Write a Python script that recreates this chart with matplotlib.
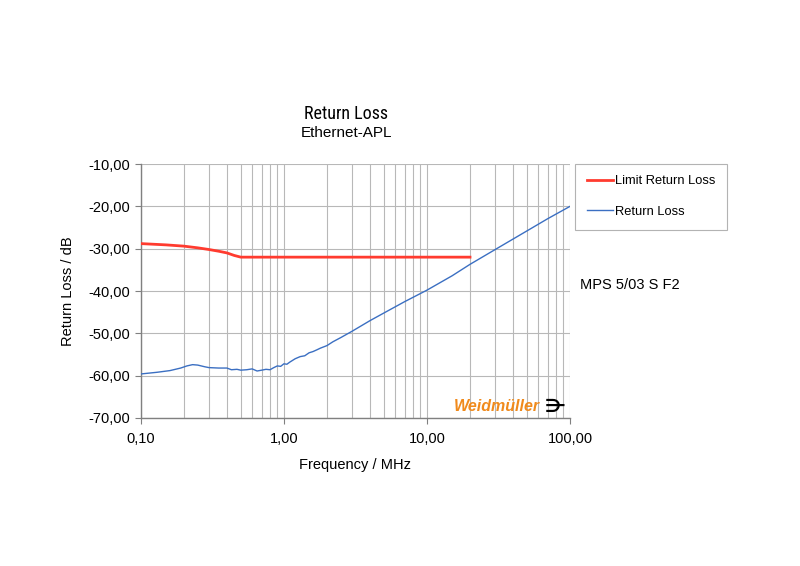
import matplotlib
matplotlib.use("Agg")
import matplotlib.pyplot as plt
from matplotlib.ticker import FixedLocator, LogLocator, NullFormatter

plt.rcParams['font.family'] = ['Liberation Sans', 'DejaVu Sans']

# Data
limit_freq = [0.10, 0.15, 0.20, 0.25, 0.30, 0.35, 0.40, 0.45, 0.50, 1.0, 5.0, 20.0]
limit_db = [-28.8, -29.1, -29.4, -29.8, -30.2, -30.6, -31.0, -31.6, -32.0, -32.0, -32.0, -32.0]

rl_freq = [0.10, 0.13, 0.16, 0.19, 0.21, 0.23, 0.25, 0.28, 0.30, 0.35, 0.40, 0.43,
           0.47, 0.50, 0.55, 0.60, 0.65, 0.70, 0.75, 0.80, 0.85, 0.90, 0.95, 1.00,
           1.05, 1.10, 1.20, 1.30, 1.40, 1.50, 1.60, 1.70, 1.80, 2.00, 2.20, 2.50,
           3.00, 4.00, 5.00, 7.00, 10.0, 15.0, 20.0, 30.0, 50.0, 70.0, 100.0]
rl_db = [-59.6, -59.2, -58.8, -58.2, -57.7, -57.4, -57.5, -57.9, -58.1, -58.2, -58.2, -58.6,
         -58.5, -58.7, -58.6, -58.4, -58.9, -58.7, -58.5, -58.6, -58.1, -57.7, -57.8, -57.2,
         -57.3, -56.8, -56.0, -55.5, -55.3, -54.6, -54.3, -53.9, -53.5, -52.9, -52.0, -51.0,
         -49.5, -47.0, -45.2, -42.5, -39.8, -36.4, -33.7, -30.2, -25.8, -22.9, -20.0]

x_ticks = [0.1, 1.0, 10.0, 100.0]
x_ticklabels = ['0,10', '1,00', '10,00', '100,00']
y_ticks = [-70, -60, -50, -40, -30, -20, -10]
y_ticklabels = ['-70,00', '-60,00', '-50,00', '-40,00', '-30,00', '-20,00', '-10,00']

fig = plt.figure(figsize=(8, 5.66), dpi=100)
ax = fig.add_axes([0.176, 0.2615, 0.5365, 0.4487])

ax.plot(limit_freq, limit_db, color='#FF3B2F', lw=2.0, label='Limit Return Loss', zorder=3)
ax.plot(rl_freq, rl_db, color='#3B6FC2', lw=1.0, label='Return Loss', zorder=3)

ax.set_xscale('log')
ax.set_xlim(0.1, 100)
ax.set_ylim(-70, -10)
ax.xaxis.set_major_locator(FixedLocator(x_ticks))
ax.set_xticklabels(x_ticklabels)
ax.xaxis.set_minor_locator(LogLocator(base=10, subs=range(2, 10)))
ax.xaxis.set_minor_formatter(NullFormatter())
ax.set_yticks(y_ticks)
ax.set_yticklabels(y_ticklabels)

ax.grid(True, which='both', axis='x', color='#B8B8B8', lw=0.8)
ax.grid(True, which='major', axis='y', color='#B8B8B8', lw=0.8)
ax.tick_params(axis='both', which='major', labelsize=10.5, color='#808080', length=4, direction='out')
ax.tick_params(axis='x', which='minor', length=0)
ax.tick_params(axis='x', pad=6)
for s in ax.spines.values():
    s.set_color('#808080')
    s.set_linewidth(1.0)
ax.spines['top'].set_visible(False)
ax.spines['right'].set_visible(False)

ax.set_xlabel('Frequency / MHz', fontsize=10.5, labelpad=9)
ax.set_ylabel('Return Loss / dB', fontsize=10.5, labelpad=10)

fig.text(0.4325, 0.798, 'Return Loss', ha='center', va='center', fontsize=13,
         family=['Liberation Sans Narrow', 'DejaVu Sans Condensed', 'Roboto Condensed', 'Liberation Sans'],
         fontstretch='condensed')
fig.text(0.4325, 0.765, 'Ethernet-APL', ha='center', va='center', fontsize=11)

leg = fig.legend(loc='upper left', bbox_to_anchor=(0.719, 0.711), fontsize=9.3,
                 frameon=True, fancybox=False, edgecolor='#A0A0A0', handlelength=2.0,
                 borderpad=0.9, labelspacing=1.45, handletextpad=0.2, borderaxespad=0)
leg.get_frame().set_linewidth(0.8)

fig.text(0.725, 0.496, 'MPS 5/03 S F2', ha='left', va='center', fontsize=10.5)

ax.text(0.93, 0.045, 'Weidmüller', transform=ax.transAxes, ha='right', va='center',
        fontsize=11.5, fontweight='bold', style='italic', color='#F08A1C')
ax.text(0.942, 0.045, '⋺', transform=ax.transAxes, ha='left', va='center',
        fontsize=13, fontweight='bold', color='black', family='DejaVu Sans')

fig.savefig('out.png', dpi=100)
